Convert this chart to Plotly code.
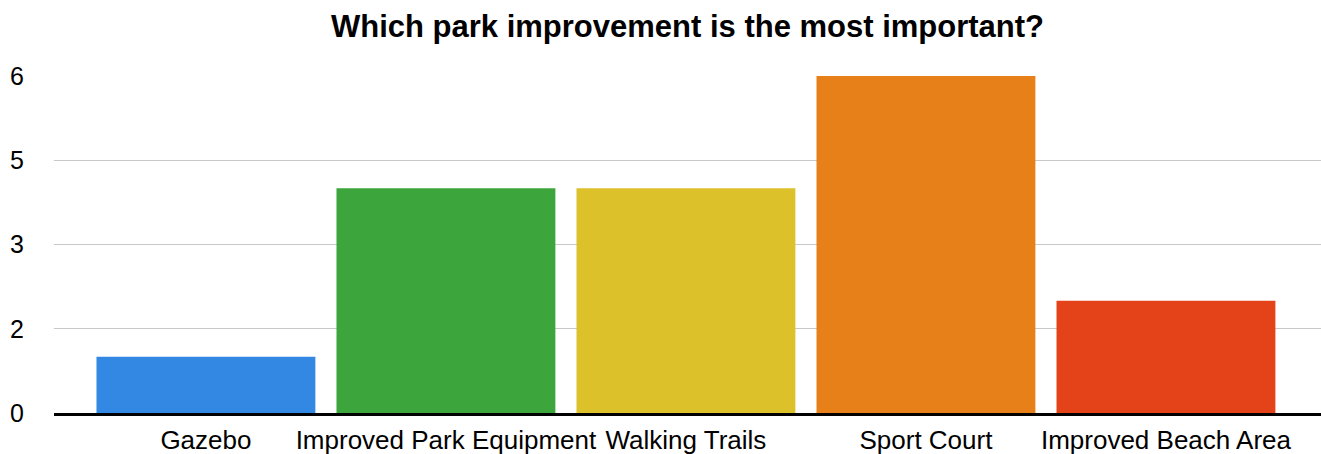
import plotly.graph_objects as go

categories = ["Gazebo", "Improved Park Equipment", "Walking Trails", "Sport Court", "Improved Beach Area"]
values = [1, 4, 4, 6, 2]
bar_colors = ["#3288e2", "#3ca63c", "#dcc12a", "#e8801a", "#e4431a"]
tick_vals = [0, 1.5, 3, 4.5, 6]
tick_text = ["0", "2", "3", "5", "6"]

fig = go.Figure()
fig.add_trace(go.Bar(
    x=categories, y=values,
    marker=dict(color=bar_colors, line=dict(width=0)),
    showlegend=False,
))

fig.update_layout(
    width=1321, height=454,
    margin=dict(l=54, r=0, t=76, b=41),
    paper_bgcolor="white", plot_bgcolor="white",
    font=dict(family="Liberation Sans, Arial, sans-serif", size=24, color="black"),
    title=dict(text="<b>Which park improvement is the most important?</b>",
               x=0.5, xref="paper", y=0.943, yanchor="middle",
               font=dict(size=31, color="black")),
    bargap=0.088,
)
fig.update_xaxes(
    range=[-0.633, 4.646],
    showgrid=False, showline=True, linecolor="black", linewidth=3,
    ticks="", ticklabelstandoff=2, tickfont=dict(size=26),
)
fig.update_yaxes(
    range=[0, 6], tickvals=tick_vals, ticktext=tick_text,
    showgrid=True, gridcolor="#c8c8c8", gridwidth=1,
    zeroline=False, showline=False, ticks="",
    ticklabelstandoff=29, tickfont=dict(size=25),
)

fig.write_html("out.html", config={"displayModeBar": False},
               post_script="document.body.style.margin='0';")
